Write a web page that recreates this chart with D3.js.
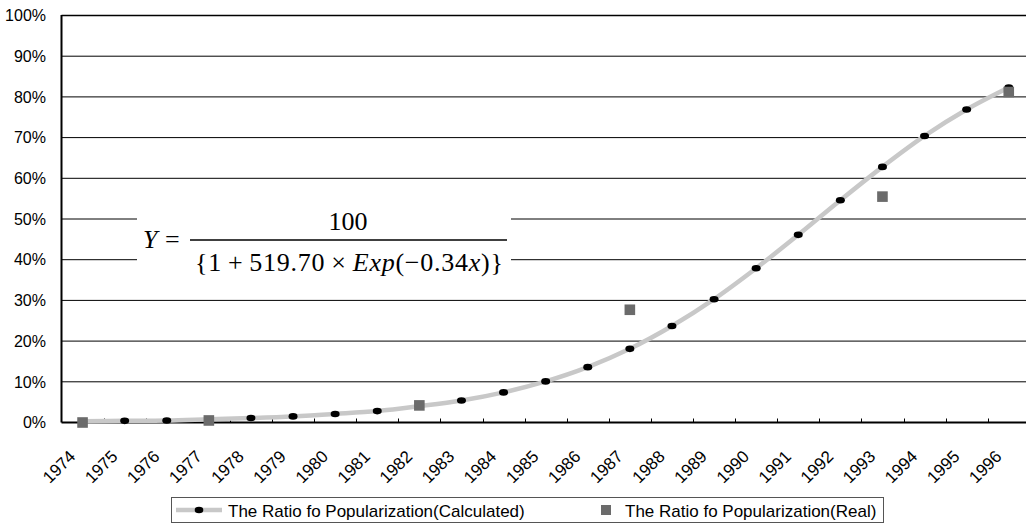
<!DOCTYPE html>
<html>
<head>
<meta charset="utf-8">
<script src="https://cdn.jsdelivr.net/npm/d3@7"></script>
<style>
  html, body { margin: 0; padding: 0; background: #fff; }
  svg { display: block; }
  text { font-family: "Liberation Sans", Arial, sans-serif; fill: #000; }
  .formula text { font-family: "Liberation Serif", "Times New Roman", serif; }
</style>
</head>
<body>
<svg id="chart" width="1026" height="526"></svg>
<script>
// Years on the category axis
const years = [1974, 1975, 1976, 1977, 1978, 1979, 1980, 1981, 1982, 1983, 1984, 1985,
               1986, 1987, 1988, 1989, 1990, 1991, 1992, 1993, 1994, 1995, 1996];

// Ratio of popularization, logistic fit (%)
const calculated = [0.3, 0.4, 0.5, 0.8, 1.1, 1.5, 2.1, 2.8, 4.0, 5.4, 7.4, 10.1,
                    13.6, 18.1, 23.7, 30.3, 37.9, 46.1, 54.6, 62.8, 70.4, 76.9, 82.3];

// Observed ratio of popularization (%)
const realYears = [1974, 1977, 1982, 1987, 1993, 1996];
const realValues = [0.0, 0.5, 4.2, 27.7, 55.5, 81.2];

const yTicks = [0, 10, 20, 30, 40, 50, 60, 70, 80, 90, 100];

const seriesNames = ["The Ratio fo Popularization(Calculated)", "The Ratio fo Popularization(Real)"];

const svg = d3.select("#chart");
const W = 1026, H = 526;

const plotLeft = 61.5, step = 42.1;
const plotRight = plotLeft + step * years.length;

const x = d3.scaleBand().domain(years).range([plotLeft, plotRight]).padding(0);
const cx = d => x(d) + x.bandwidth() / 2;
const y = d3.scaleLinear().domain([0, 100]).range([422.5, 15.5]);

// Horizontal gridlines
svg.append("g").selectAll("line").data(yTicks.filter(t => t > 0)).join("line")
  .attr("x1", plotLeft).attr("x2", W)
  .attr("y1", d => y(d)).attr("y2", d => y(d))
  .attr("stroke", "#000").attr("stroke-width", d => d === 100 ? 1.6 : 1);

// Y axis labels
svg.append("g").selectAll("text").data(yTicks).join("text")
  .attr("x", 46).attr("y", d => y(d)).attr("dy", "0.36em")
  .attr("text-anchor", "end").attr("font-size", 16)
  .text(d => d + "%");

// Formula panel (white backing hides gridlines)
const f = svg.append("g").attr("class", "formula");
f.append("rect").attr("x", 137).attr("y", 190).attr("width", 374).attr("height", 90).attr("fill", "#fff");
f.append("text").attr("x", 143).attr("y", 248).attr("font-size", 26).attr("font-style", "italic").text("Y");
f.append("text").attr("x", 165).attr("y", 248).attr("font-size", 26).text("=");
f.append("text").attr("x", 348).attr("y", 230).attr("font-size", 26).attr("text-anchor", "middle").text("100");
f.append("line").attr("x1", 190).attr("x2", 507).attr("y1", 240).attr("y2", 240)
  .attr("stroke", "#000").attr("stroke-width", 1.3);
const den = f.append("text").attr("x", 195).attr("y", 271).attr("font-size", 26)
  .attr("textLength", 308).attr("lengthAdjust", "spacing");
den.append("tspan").text("{1\u2009+\u2009519.70\u2009\u00D7\u2009");
den.append("tspan").attr("font-style", "italic").text("Exp");
den.append("tspan").text("(\u22120.34");
den.append("tspan").attr("font-style", "italic").text("x");
den.append("tspan").text(")}");

// Axes lines
svg.append("line").attr("x1", plotLeft).attr("x2", plotLeft).attr("y1", y(100) - 0.5).attr("y2", y(0))
  .attr("stroke", "#000").attr("stroke-width", 2);
svg.append("line").attr("x1", plotLeft).attr("x2", W).attr("y1", y(0)).attr("y2", y(0))
  .attr("stroke", "#000").attr("stroke-width", 2);

// Category boundary ticks (inside)
svg.append("g").selectAll("line").data(years.slice(1)).join("line")
  .attr("x1", d => Math.round(x(d)) + 0.5).attr("x2", d => Math.round(x(d)) + 0.5)
  .attr("y1", y(0)).attr("y2", y(0) - 4)
  .attr("stroke", "#000").attr("stroke-width", 1);

// Rotated year labels
svg.append("g").selectAll("text").data(years).join("text")
  .attr("text-anchor", "end").attr("font-size", 17)
  .attr("transform", d => `translate(${cx(d) - 6},${y(0) + 35}) rotate(-45)`)
  .text(d => d);

// Calculated curve
const pts = years.map((yr, i) => [cx(yr), y(calculated[i])]);
svg.append("path")
  .attr("d", d3.line().curve(d3.curveCatmullRom.alpha(0.5))(pts))
  .attr("fill", "none").attr("stroke", "#c8c8c8").attr("stroke-width", 4.5);

svg.append("g").selectAll("ellipse").data(years).join("ellipse")
  .attr("cx", d => cx(d)).attr("cy", (d, i) => y(calculated[i]))
  .attr("rx", 4.5).attr("ry", 3.3).attr("fill", "#000");

// Real observations
svg.append("g").selectAll("rect").data(realYears).join("rect")
  .attr("x", d => cx(d) - 5.3).attr("y", (d, i) => y(realValues[i]) - 5.3)
  .attr("width", 10.6).attr("height", 10.6).attr("fill", "#6b6b6b");

// Legend
const lg = svg.append("g");
lg.append("rect").attr("x", 171.5).attr("y", 497.5).attr("width", 712).attr("height", 25)
  .attr("fill", "#fff").attr("stroke", "#555").attr("stroke-width", 1);
lg.append("line").attr("x1", 176).attr("x2", 222).attr("y1", 510).attr("y2", 510)
  .attr("stroke", "#c8c8c8").attr("stroke-width", 4.5);
lg.append("ellipse").attr("cx", 199).attr("cy", 510).attr("rx", 4.3).attr("ry", 3.2).attr("fill", "#000");
lg.append("text").attr("x", 228).attr("y", 516.5).attr("font-size", 17).text(seriesNames[0]);
lg.append("rect").attr("x", 601).attr("y", 505).attr("width", 10).attr("height", 10).attr("fill", "#6b6b6b");
lg.append("text").attr("x", 625).attr("y", 516.5).attr("font-size", 17).text(seriesNames[1]);
</script>
</body>
</html>
